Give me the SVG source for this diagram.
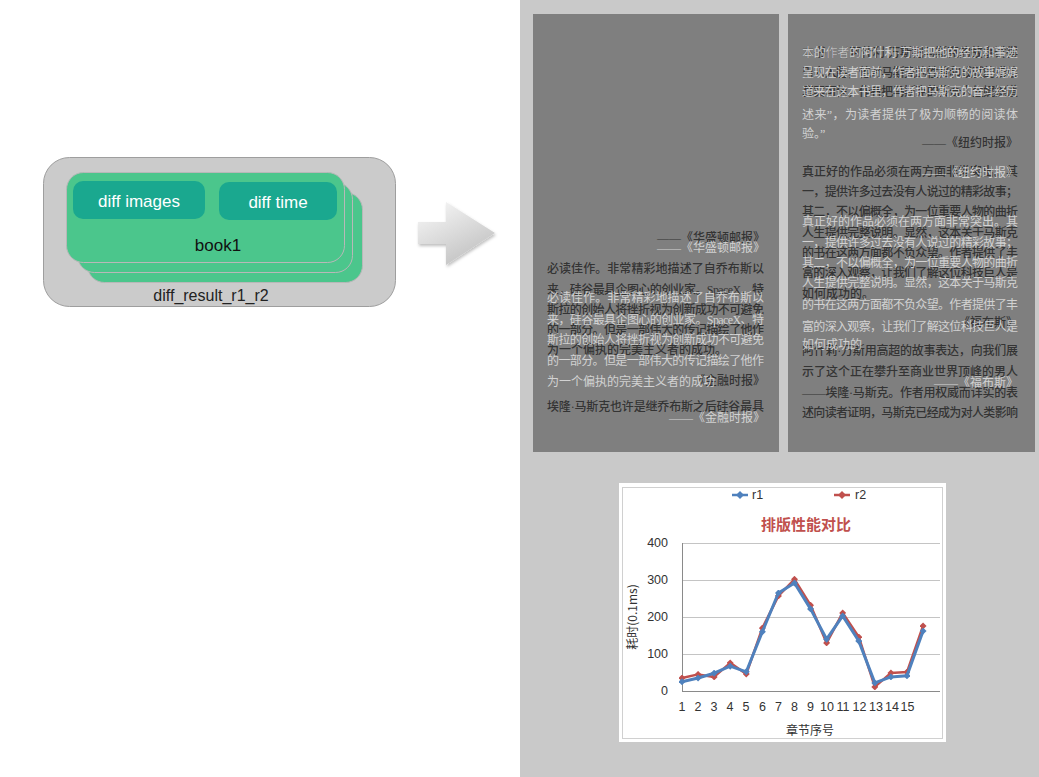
<svg xmlns="http://www.w3.org/2000/svg" width="1039" height="777" viewBox="0 0 1039 777">
<defs>
<style>
.lbl{font-family:"Liberation Sans","Noto Sans",sans-serif;}
.pt{font-family:"Liberation Serif","Noto Sans CJK SC",serif;font-size:12px;}
.dk{fill:#2a2a2a;fill-opacity:0.9;font-weight:500;}
.wt{fill:#e2e2e2;fill-opacity:0.85;}
.cj{font-family:"Noto Sans CJK SC","Liberation Sans",sans-serif;}
.ax{font-family:"Liberation Sans","Noto Sans",sans-serif;font-size:12.5px;fill:#333;}
.grid{stroke:#c4c4c4;stroke-width:1;}
</style>
<linearGradient id="arrowG" x1="0" y1="0" x2="0.6" y2="1">
<stop offset="0" stop-color="#fafafa"/>
<stop offset="1" stop-color="#c2c2c2"/>
</linearGradient>
<filter id="sh" x="-20%" y="-20%" width="150%" height="150%">
<feDropShadow dx="1" dy="2" stdDeviation="1.5" flood-color="#000" flood-opacity="0.25"/>
</filter>
<marker id="mRed" viewBox="-4 -4 8 8" markerWidth="7" markerHeight="7" markerUnits="userSpaceOnUse">
<path d="M0,-4L4,0L0,4L-4,0Z" fill="#c0504d"/>
</marker>
<marker id="mBlue" viewBox="-4 -4 8 8" markerWidth="7" markerHeight="7" markerUnits="userSpaceOnUse">
<path d="M0,-4L4,0L0,4L-4,0Z" fill="#4f81bd"/>
</marker>
</defs>
<rect width="1039" height="777" fill="#ffffff"/>

<!-- left node: diff_result_r1_r2 -->
<g id="diff_result_r1_r2">
<rect x="43.5" y="157.5" width="352" height="149" rx="26" fill="#cbcbcb" stroke="#9e9e9e"/>
<text class="lbl" x="211" y="301" font-size="16" fill="#222" text-anchor="middle">diff_result_r1_r2</text>
</g>
<g id="book1">
<rect x="87.5" y="192.5" width="275" height="90" rx="17" fill="#4bc68c" stroke="#b8b8b8"/>
<rect x="77.5" y="182.5" width="275" height="90" rx="17" fill="#4bc68c" stroke="#b8b8b8"/>
<rect x="66.5" y="172.5" width="278" height="90" rx="17" fill="#4bc68c" stroke="#b8b8b8"/>
<text class="lbl" x="218" y="251" font-size="17" fill="#111" text-anchor="middle">book1</text>
</g>
<g id="diff_images">
<rect x="73" y="181" width="132" height="38" rx="10" fill="#1aa88f"/>
<text class="lbl" x="139" y="207" font-size="17" fill="#ffffff" text-anchor="middle">diff images</text>
</g>
<g id="diff_time">
<rect x="219" y="182" width="118" height="38" rx="10" fill="#1aa88f"/>
<text class="lbl" x="278" y="208" font-size="17" fill="#ffffff" text-anchor="middle">diff time</text>
</g>

<!-- connectors -->
<g id="connectors">
<path d="M418,222 L446,222 L446,202 L495,233 L446,265 L446,244 L418,244 Z" fill="url(#arrowG)" filter="url(#sh)"/>
</g>

<!-- right area -->
<g id="results">
<rect x="520" y="0" width="519" height="777" fill="#c9c9c9"/>
<rect x="533" y="14" width="246" height="438" fill="#7f7f7f"/>
<rect x="788" y="14" width="247" height="438" fill="#7f7f7f"/>

<!-- left page -->
<g class="pt">
<text class="dk" x="765" y="242" text-anchor="end">——《华盛顿邮报》</text>
<text class="wt" x="765" y="252" text-anchor="end">——《华盛顿邮报》</text>
<text class="dk" x="547" y="273" textLength="217" lengthAdjust="spacing">必读佳作。非常精彩地描述了自乔布斯以</text>
<text class="dk" x="547" y="294" textLength="217" lengthAdjust="spacing">来，硅谷最具企图心的创业家。SpaceX、特</text>
<text class="dk" x="547" y="314" textLength="217" lengthAdjust="spacing">斯拉的创始人将挫折视为创新成功不可避免</text>
<text class="dk" x="547" y="334" textLength="217" lengthAdjust="spacing">的一部分。但是一部伟大的传记描绘了他作</text>
<text class="dk" x="547" y="354">为一个偏执的完美主义者的成功。</text>
<text class="dk" x="765" y="385" text-anchor="end">《金融时报》</text>
<text class="dk" x="547" y="411" textLength="217" lengthAdjust="spacing">埃隆·马斯克也许是继乔布斯之后硅谷最具</text>
<text class="wt" x="547" y="302" textLength="217" lengthAdjust="spacing">必读佳作。非常精彩地描述了自乔布斯以</text>
<text class="wt" x="547" y="324" textLength="217" lengthAdjust="spacing">来，硅谷最具企图心的创业家。SpaceX、特</text>
<text class="wt" x="547" y="344" textLength="217" lengthAdjust="spacing">斯拉的创始人将挫折视为创新成功不可避免</text>
<text class="wt" x="547" y="365" textLength="217" lengthAdjust="spacing">的一部分。但是一部伟大的传记描绘了他作</text>
<text class="wt" x="547" y="386">为一个偏执的完美主义者的成功</text>
<text class="wt" x="765" y="422" text-anchor="end">——《金融时报》</text>
</g>

<!-- right page -->
<g class="pt">
<text class="dk" x="802" y="57" textLength="216" lengthAdjust="spacing">本书作者阿什利·万斯把马斯克的故事讲得</text>
<text class="wt" x="802" y="57" textLength="216" lengthAdjust="spacing">本的作者的阿什利·万斯把他的经历和事迹</text>
<text class="dk" x="802" y="77" textLength="216" lengthAdjust="spacing">引人入胜，他对马斯克的性格和成就的描绘</text>
<text class="wt" x="802" y="77" textLength="216" lengthAdjust="spacing">呈现在读者面前，作者把马斯克的故事娓娓</text>
<text class="dk" x="802" y="96" textLength="216" lengthAdjust="spacing">真实可信，作者把马斯克的传奇人生娓娓道</text>
<text class="wt" x="802" y="96" textLength="216" lengthAdjust="spacing">道来在这本书里，作者把马斯克的奋斗经历</text>
<text class="wt" x="802" y="119" textLength="216" lengthAdjust="spacing">述来”，为读者提供了极为顺畅的阅读体</text>
<text class="wt" x="802" y="138">验。”</text>
<text class="dk" x="1018" y="147" text-anchor="end">——《纽约时报》</text>
<text class="dk" x="802" y="176" textLength="216" lengthAdjust="spacing">真正好的作品必须在两方面非常突出。其</text>
<text class="wt" x="1018" y="177" text-anchor="end">——《纽约时报》</text>
<text class="dk" x="802" y="196" textLength="216" lengthAdjust="spacing">一，提供许多过去没有人说过的精彩故事；</text>
<text class="dk" x="802" y="216" textLength="216" lengthAdjust="spacing">其二，不以偏概全，为一位重要人物的曲折</text>
<text class="dk" x="802" y="237" textLength="216" lengthAdjust="spacing">人生提供完整说明。显然，这本关于马斯克</text>
<text class="dk" x="802" y="257" textLength="216" lengthAdjust="spacing">的书在这两方面都不负众望。作者提供了丰</text>
<text class="dk" x="802" y="277" textLength="216" lengthAdjust="spacing">富的深入观察，让我们了解这位科技巨人是</text>
<text class="dk" x="802" y="298">如何成功的。</text>
<text class="dk" x="1018" y="327" text-anchor="end">《福布斯》</text>
<text class="dk" x="802" y="355" textLength="216" lengthAdjust="spacing">阿什莉·万斯用高超的故事表达，向我们展</text>
<text class="dk" x="802" y="376" textLength="216" lengthAdjust="spacing">示了这个正在攀升至商业世界顶峰的男人</text>
<text class="dk" x="802" y="397" textLength="216" lengthAdjust="spacing">——埃隆·马斯克。作者用权威而详实的表</text>
<text class="dk" x="802" y="417" textLength="216" lengthAdjust="spacing">述向读者证明，马斯克已经成为对人类影响</text>
<text class="wt" x="802" y="226" textLength="216" lengthAdjust="spacing">真正好的作品必须在两方面非常突出。其</text>
<text class="wt" x="802" y="247" textLength="216" lengthAdjust="spacing">一，提供许多过去没有人说过的精彩故事；</text>
<text class="wt" x="802" y="267" textLength="216" lengthAdjust="spacing">其二，不以偏概全，为一位重要人物的曲折</text>
<text class="wt" x="802" y="287" textLength="216" lengthAdjust="spacing">人生提供完整说明。显然，这本关于马斯克</text>
<text class="wt" x="802" y="309" textLength="216" lengthAdjust="spacing">的书在这两方面都不负众望。作者提供了丰</text>
<text class="wt" x="802" y="331" textLength="216" lengthAdjust="spacing">富的深入观察，让我们了解这位科技巨人是</text>
<text class="wt" x="802" y="349">如何成功的</text>
<text class="wt" x="1018" y="387" text-anchor="end">——《福布斯》</text>
</g>

<!-- chart -->
<g id="chart">
<rect x="619" y="483" width="327" height="259" fill="#ffffff"/>
<rect x="622.5" y="487.5" width="320" height="251" fill="none" stroke="#d0d0d0"/>
<line x1="732" y1="495" x2="748" y2="495" stroke="#4f81bd" stroke-width="2.5"/>
<path d="M740,491L744,495L740,499L736,495Z" fill="#4f81bd"/>
<text class="ax" x="752" y="499">r1</text>
<line x1="834" y1="495" x2="850" y2="495" stroke="#c0504d" stroke-width="2.5"/>
<path d="M842,491L846,495L842,499L838,495Z" fill="#c0504d"/>
<text class="ax" x="855" y="499">r2</text>
<text class="cj" x="806" y="530" font-size="15" font-weight="bold" fill="#c0504d" text-anchor="middle">排版性能对比</text>
<line class="grid" x1="682" y1="543.5" x2="940" y2="543.5"/>
<line class="grid" x1="682" y1="580.5" x2="940" y2="580.5"/>
<line class="grid" x1="682" y1="617.5" x2="940" y2="617.5"/>
<line class="grid" x1="682" y1="654.5" x2="940" y2="654.5"/>
<line x1="682" y1="691.5" x2="940" y2="691.5" stroke="#8a8a8a"/>
<line x1="682.5" y1="543" x2="682.5" y2="691" stroke="#8a8a8a"/>
<text class="ax" x="668" y="547" text-anchor="end">400</text>
<text class="ax" x="668" y="584" text-anchor="end">300</text>
<text class="ax" x="668" y="621" text-anchor="end">200</text>
<text class="ax" x="668" y="658" text-anchor="end">100</text>
<text class="ax" x="668" y="695" text-anchor="end">0</text>
<text class="cj" x="0" y="0" font-size="12" fill="#333" text-anchor="middle" transform="translate(637,617) rotate(-90)">耗时(0.1ms)</text>
<g class="ax" text-anchor="middle">
<text x="682" y="711">1</text><text x="698" y="711">2</text><text x="714" y="711">3</text><text x="730" y="711">4</text><text x="746" y="711">5</text><text x="762.5" y="711">6</text><text x="778.5" y="711">7</text><text x="794.5" y="711">8</text><text x="810.5" y="711">9</text><text x="827" y="711">10</text><text x="843" y="711">11</text><text x="859.5" y="711">12</text><text x="876" y="711">13</text><text x="892" y="711">14</text><text x="907.5" y="711">15</text>
</g>
<text class="cj" x="810" y="735" font-size="12" fill="#333" text-anchor="middle">章节序号</text>
<polyline fill="none" stroke="#c0504d" stroke-width="2.5" stroke-linejoin="round" marker-start="url(#mRed)" marker-mid="url(#mRed)" marker-end="url(#mRed)" points="682,678 698.07,674.4 714.14,676.9 730.21,662.9 746.28,674 762.35,628.1 778.42,595.9 794.49,579.3 810.56,605.2 826.63,642.9 842.7,612.9 858.77,637 874.84,686.9 890.91,672.9 906.98,672.1 923.05,625.9"/>
<polyline fill="none" stroke="#4f81bd" stroke-width="3" stroke-linejoin="round" marker-start="url(#mBlue)" marker-mid="url(#mBlue)" marker-end="url(#mBlue)" points="682,681.75 698.07,678 714.14,673.2 730.21,666.2 746.28,671.8 762.35,631.8 778.42,593 794.49,583 810.56,608.9 826.63,639.2 842.7,615.9 858.77,641.05 874.84,682.9 890.91,676.9 906.98,675.8 923.05,631.1"/>
</g>
</g>
</svg>
